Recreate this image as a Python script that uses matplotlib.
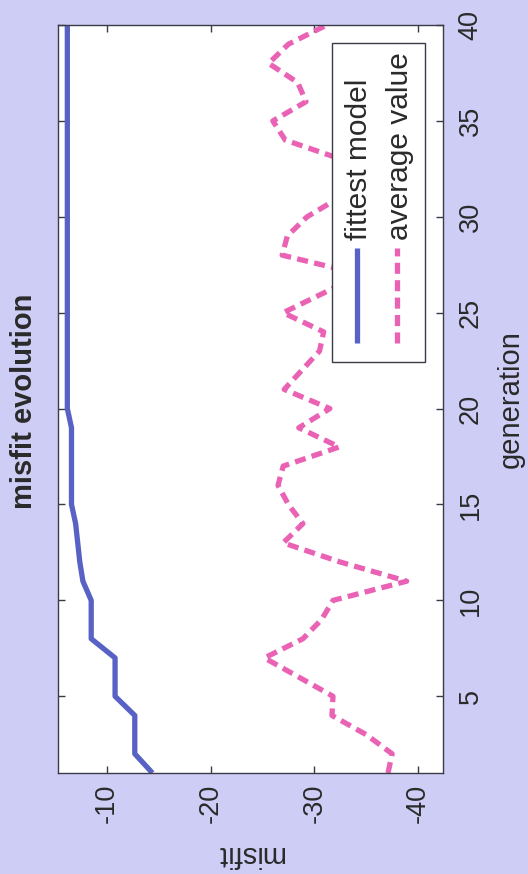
import matplotlib
matplotlib.use('Agg')
import matplotlib.pyplot as plt
from matplotlib.patches import Rectangle

generation = list(range(1, 41))
fittest = [-14.4, -12.7, -12.7, -12.7, -10.8, -10.8, -10.8, -8.5, -8.5, -8.5,
           -7.7, -7.4, -7.2, -7.0, -6.6, -6.6, -6.6, -6.6, -6.6, -6.2,
           -6.2, -6.2, -6.2, -6.2, -6.2, -6.2, -6.2, -6.2, -6.2, -6.2,
           -6.2, -6.2, -6.2, -6.2, -6.2, -6.2, -6.2, -6.2, -6.2, -6.2]
average = [-37.1, -37.5, -35.0, -31.7, -31.8, -28.5, -25.2, -28.9, -30.7, -31.8,
           -38.9, -32.5, -27.0, -28.9, -27.5, -26.5, -27.0, -32.4, -28.5, -31.5,
           -27.1, -28.8, -30.5, -30.9, -27.0, -30.8, -34.5, -26.9, -27.4, -29.3,
           -32.4, -34.5, -32.6, -27.2, -26.0, -29.2, -28.4, -25.6, -27.5, -31.2]
misfit_ticks = [-10, -20, -30, -40]
gen_ticks = [5, 10, 15, 20, 25, 30, 35, 40]
series_names = ['fittest model', 'average value']

bg = '#cdcdf6'
blue = '#5762c4'
pink = '#ea62b4'
dark = '#3a3a48'

plt.rcParams['font.family'] = ['Liberation Sans', 'DejaVu Sans']

fig = plt.figure(figsize=(5.28, 8.74), dpi=100, facecolor=bg)
# whole figure is turned 90 degrees: misfit runs along the bottom, generation up the right side
ax = fig.add_axes([58 / 528, 101 / 874, 385 / 528, 748 / 874])
ax.set_facecolor('white')

ax.plot(fittest, generation, color=blue, lw=3.8, solid_capstyle='butt')
ax.plot(average, generation, color=pink, lw=3.8, dashes=(2.1, 1.2))

ax.set_xlim(-5.3, -42.4)
ax.set_ylim(1, 40)

for s in ax.spines.values():
    s.set_color(dark)
    s.set_linewidth(1.0)

ax.tick_params(axis='both', which='both', direction='in', length=5, width=1,
               color=dark, labelcolor='#2a2a2a', top=True, right=True,
               left=True, bottom=True)
ax.tick_params(axis='y', labelleft=False, labelright=True, pad=10.5)
ax.tick_params(axis='x', pad=8)

ax.set_xticks(misfit_ticks, [str(v) for v in misfit_ticks], rotation=90,
              fontsize=19.5, va='top', ha='center')
ax.set_yticks(gen_ticks, [str(v) for v in gen_ticks], rotation=90,
              fontsize=19.5, va='center', ha='left')

ax.set_xlabel('misfit', rotation=180, fontsize=21, color='#2a2a2a',
              ha='center', va='center')
ax.xaxis.set_label_coords(0.5, -0.108)
ax.yaxis.set_label_position('right')
ax.set_ylabel('generation', rotation=90, fontsize=21, color='#2a2a2a',
              ha='center', va='center')
ax.yaxis.set_label_coords(1.175, 0.5)

fig.text(24 / 528, 1 - 401 / 874, 'misfit evolution', rotation=90,
         fontsize=21, fontweight='bold', color='#2a2a2a',
         ha='center', va='center')

# legend, drawn by hand because it is turned with the figure
ax.add_patch(Rectangle((0.712, 0.549), 0.241, 0.427, transform=ax.transAxes,
                       facecolor='white', edgecolor=dark, lw=1.0, zorder=5))
ax.plot([0.777, 0.777], [0.575, 0.702], transform=ax.transAxes, color=blue,
        lw=3.8, solid_capstyle='butt', zorder=6)
ax.plot([0.881, 0.881], [0.575, 0.702], transform=ax.transAxes, color=pink,
        lw=3.8, dashes=(2.1, 1.2), zorder=6)
ax.text(0.782, 0.713, series_names[0], transform=ax.transAxes, rotation=90,
        fontsize=21.5, color='#2a2a2a', ha='center', va='bottom', zorder=7)
ax.text(0.888, 0.713, series_names[1], transform=ax.transAxes, rotation=90,
        fontsize=21.5, color='#2a2a2a', ha='center', va='bottom', zorder=7)

fig.savefig('out.png', dpi=100, facecolor=bg)
